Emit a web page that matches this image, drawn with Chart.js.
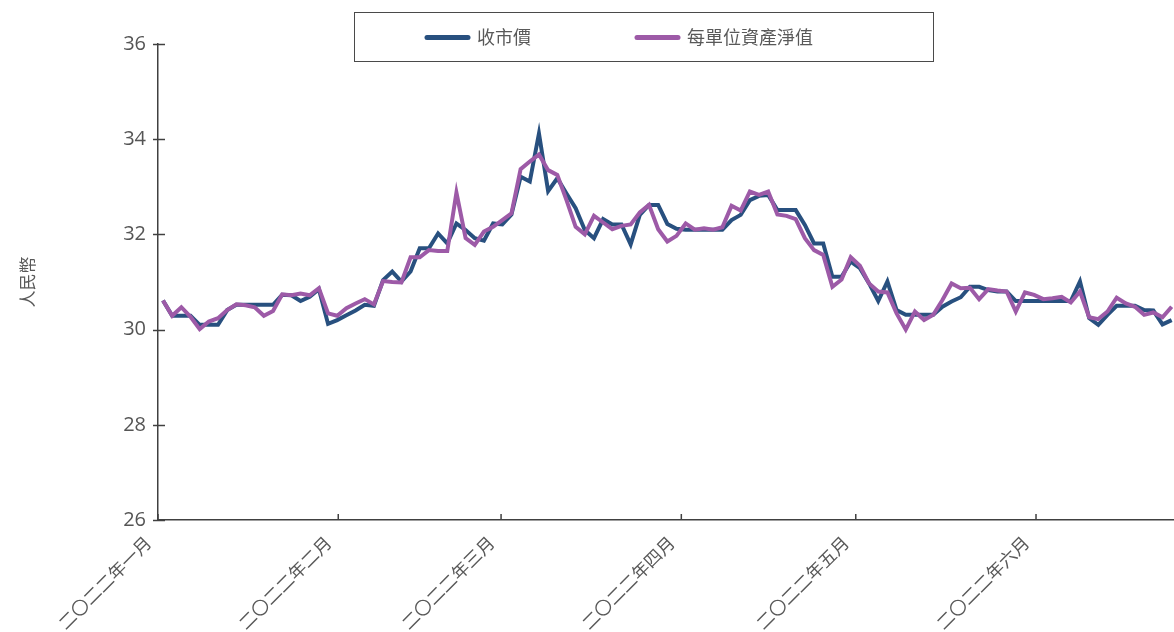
<!DOCTYPE html>
<html><head><meta charset="utf-8">
<script src="https://cdn.jsdelivr.net/npm/chart.js@4.4.1/dist/chart.umd.min.js"></script>
<style>html,body{margin:0;padding:0;background:#fff;overflow:hidden}#wrap{width:1174px;height:632px;position:relative}</style>
</head><body><div id="wrap"><canvas id="c" width="1174" height="632"></canvas></div>
<script>
// ---- data ----
const seriesNames = ['收市價', '每單位資產淨值'];
const closePrice = [
  30.61,30.29,30.29,30.29,30.10,30.10,30.10,30.41,30.52,30.52,
  30.52,30.52,30.52,30.73,30.72,30.60,30.69,30.85,30.12,30.20,
  30.30,30.40,30.52,30.50,31.04,31.22,31.01,31.22,31.71,31.71,
  32.02,31.81,32.23,32.09,31.92,31.87,32.23,32.21,32.42,33.21,
  33.11,34.12,32.91,33.18,32.86,32.55,32.09,31.92,32.32,32.21,
  32.21,31.79,32.41,32.62,32.62,32.22,32.12,32.10,32.10,32.10,
  32.10,32.10,32.30,32.41,32.72,32.81,32.83,32.51,32.51,32.51,
  32.20,31.81,31.81,31.11,31.11,31.43,31.29,30.97,30.60,31.01,
  30.41,30.31,30.31,30.31,30.31,30.48,30.59,30.68,30.90,30.90,
  30.83,30.80,30.80,30.60,30.60,30.60,30.60,30.60,30.60,30.60,
  31.01,30.24,30.10,30.31,30.50,30.50,30.50,30.41,30.40,30.11,
  30.20
];
const navPerUnit = [
  30.61,30.29,30.47,30.27,30.01,30.17,30.24,30.41,30.53,30.51,
  30.47,30.29,30.39,30.74,30.72,30.76,30.72,30.87,30.34,30.29,
  30.45,30.55,30.64,30.53,31.02,31.00,30.99,31.52,31.52,31.67,
  31.65,31.65,32.88,31.92,31.78,32.06,32.16,32.30,32.44,33.37,
  33.53,33.68,33.35,33.25,32.72,32.16,32.00,32.39,32.25,32.11,
  32.18,32.21,32.46,32.62,32.11,31.85,31.97,32.23,32.10,32.13,
  32.10,32.15,32.60,32.50,32.90,32.83,32.90,32.42,32.39,32.32,
  31.92,31.67,31.57,30.90,31.05,31.52,31.34,30.97,30.80,30.78,
  30.34,30.00,30.38,30.20,30.31,30.62,30.97,30.87,30.88,30.64,
  30.85,30.82,30.80,30.38,30.78,30.73,30.64,30.66,30.69,30.57,
  30.80,30.26,30.22,30.38,30.67,30.55,30.48,30.31,30.36,30.26,
  30.48
];
const firstPointDay = 0.86;   // days after 1 Jan 2022
const pointStepDays = 1.577;
const monthTickDays = [0, 31, 59, 90, 120, 151];
const monthTickLabels = ['二〇二二年一月','二〇二二年二月','二〇二二年三月','二〇二二年四月','二〇二二年五月','二〇二二年六月'];
const yTickValues = [26, 28, 30, 32, 34, 36];
const yTitle = '人民幣';

// ---- chart ----
const toPoints = arr => arr.map((v, i) => ({x: firstPointDay + i * pointStepDays, y: v}));
const GREY = '#595959';
const AXIS = '#404040';
const BLUE = '#28507f';
const PURPLE = '#9d5aa7';
const CJK = '"Noto Sans CJK TC", "Noto Sans", sans-serif';

const decor = {
  id: 'decor',
  afterDraw(chart) {
    const ctx = chart.ctx, a = chart.chartArea, xs = chart.scales.x, ys = chart.scales.y;
    ctx.save();
    ctx.strokeStyle = AXIS; ctx.lineWidth = 1.5;
    ys.ticks.forEach(t => {
      const py = Math.round(ys.getPixelForValue(t.value)) + 0.5;
      ctx.beginPath(); ctx.moveTo(a.left - 5, py); ctx.lineTo(a.left + 7, py); ctx.stroke();
    });
    xs.ticks.forEach(t => {
      const px = xs.getPixelForValue(t.value);
      ctx.beginPath(); ctx.moveTo(px, a.bottom); ctx.lineTo(px, a.bottom - 6); ctx.stroke();
    });
    // legend box
    ctx.lineWidth = 1; ctx.strokeStyle = '#4a4a4a';
    ctx.strokeRect(354.5, 12.5, 579, 49);
    const starts = [425, 635];
    ctx.font = '18px ' + CJK; ctx.textBaseline = 'middle'; ctx.textAlign = 'left';
    chart.data.datasets.forEach((ds, i) => {
      const x0 = starts[i];
      ctx.strokeStyle = ds.borderColor; ctx.lineWidth = 5; ctx.lineCap = 'round';
      ctx.beginPath(); ctx.moveTo(x0 + 2, 37.5); ctx.lineTo(x0 + 43, 37.5); ctx.stroke();
      ctx.fillStyle = GREY;
      ctx.fillText(ds.label, x0 + 52, 37.5);
    });
    ctx.restore();
  }
};

new Chart(document.getElementById('c'), {
  type: 'line',
  data: {
    datasets: [
      {label: seriesNames[0], data: toPoints(closePrice), borderColor: BLUE, backgroundColor: BLUE, borderWidth: 4, pointRadius: 0, tension: 0, order: 1},
      {label: seriesNames[1], data: toPoints(navPerUnit), borderColor: PURPLE, backgroundColor: PURPLE, borderWidth: 4, pointRadius: 0, tension: 0, order: 0}
    ]
  },
  options: {
    responsive: false,
    animation: false,
    layout: {padding: {top: 44, right: 0, bottom: 0, left: 0}},
    plugins: {legend: {display: false}, tooltip: {enabled: false}},
    scales: {
      x: {
        type: 'linear', min: 0, max: 174.73,
        afterBuildTicks: s => { s.ticks = monthTickDays.map(v => ({value: v})); },
        afterFit: s => { s.height = 112; },
        ticks: {
          autoSkip: false, minRotation: 45, maxRotation: 45, padding: 12, labelOffset: -10,
          color: GREY, font: {family: CJK, size: 17.5},
          callback: v => monthTickLabels[monthTickDays.indexOf(v)]
        },
        grid: {display: false, drawTicks: false},
        border: {display: true, color: AXIS, width: 1.5}
      },
      y: {
        min: 26, max: 36,
        afterBuildTicks: s => { s.ticks = yTickValues.map(v => ({value: v})); },
        afterFit: s => { s.width = 158; },
        ticks: {padding: 12, color: '#555555', font: {family: '"Open Sans", sans-serif', size: 20}},
        grid: {display: false, drawTicks: false},
        border: {display: true, color: AXIS, width: 1.5},
        title: {display: true, text: yTitle, color: GREY, font: {family: CJK, size: 17}, padding: {top: 17, bottom: 0}}
      }
    }
  },
  plugins: [decor]
});
</script>
</body></html>
